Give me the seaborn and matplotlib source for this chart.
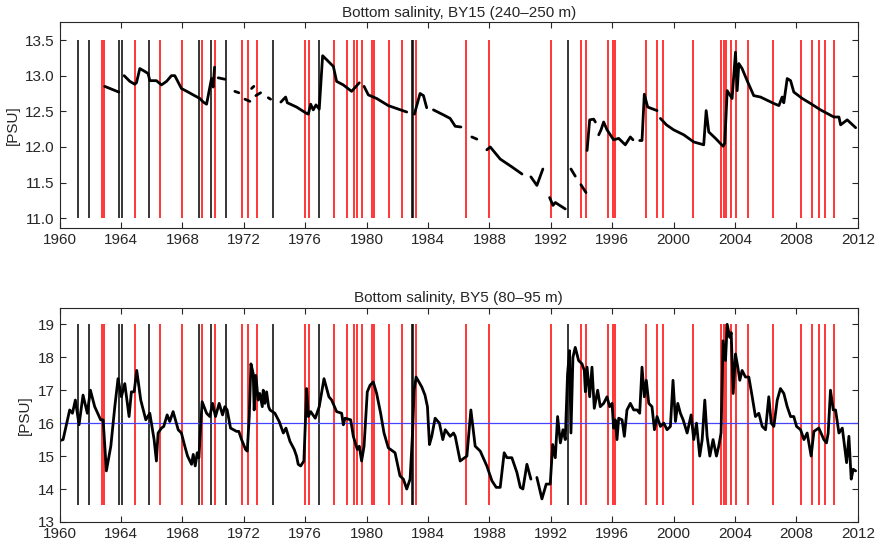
import numpy as np
import pandas as pd
import seaborn as sns
import matplotlib
matplotlib.use('Agg')
import matplotlib.pyplot as plt

#%% event years (vertical lines)
black_years = [1961.19, 1961.91, 1963.85, 1964.06, 1965.82, 1969.07, 1969.83, 1970.81,
               1973.87, 1976.91, 1982.94, 1983.05, 1993.1]
red_years = [1962.78, 1962.91, 1964.89, 1966.52, 1967.94, 1969.28, 1970.11, 1971.85,
             1972.26, 1972.87, 1976.0, 1976.26, 1977.87, 1978.74, 1979.18, 1979.35,
             1979.72, 1980.33, 1980.5, 1981.48, 1982.31, 1983.2, 1986.46, 1987.94,
             1992.03, 1993.99, 1994.27, 1995.7, 1996.05, 1996.18, 1998.23, 1998.92,
             1999.33, 2001.23, 2003.07, 2003.25, 2003.42, 2003.75, 2004.07, 2004.83,
             2006.48, 2008.27, 2009.01, 2009.44, 2009.88, 2010.47]

#%% BY15 bottom salinity (NaN = gap)
nan = np.nan
by15_year = [1962.93, 1963.85, 1964.0,
             1964.2, 1964.57, 1964.89, 1965.0, 1965.22, 1965.54, 1965.76, 1965.87, 1966.3,
             1966.63, 1966.96, 1967.28, 1967.5, 1967.93, 1968.37, 1968.7, 1969.13, 1969.35,
             1969.57, 1969.89, 1970.0, 1970.09, 1970.2,
             1970.33, 1970.76, 1971.0,
             1971.41, 1971.67, 1971.9,
             1972.07, 1972.39, 1972.45,
             1972.5, 1972.65, 1972.7,
             1972.78, 1973.09, 1973.3,
             1973.59, 1973.74, 1974.0,
             1974.41, 1974.72, 1974.83, 1975.43, 1976.09, 1976.2, 1976.35, 1976.52, 1976.7,
             1976.91, 1977.13, 1977.5, 1977.83, 1978.04, 1978.48, 1979.02, 1979.52, 1979.7,
             1979.83, 1980.11, 1980.65, 1981.41, 1982.07, 1982.61, 1982.9,
             1983.11, 1983.48, 1983.7, 1983.91, 1984.1,
             1984.35, 1985.0, 1985.44, 1985.77, 1986.14, 1986.5,
             1986.85, 1987.18, 1987.5,
             1987.83, 1988.05, 1988.7, 1989.46, 1990.12, 1990.4,
             1990.7, 1991.09, 1991.48, 1991.7,
             1991.92, 1992.14, 1992.29, 1992.94, 1993.1,
             1993.31, 1993.59, 1993.8,
             1993.96, 1994.29, 1994.33,
             1994.36, 1994.53, 1994.79, 1994.9, 1995.0,
             1995.12, 1995.27, 1995.44, 1995.66, 1996.09, 1996.42, 1996.85, 1997.18, 1997.35, 1997.6,
             1997.79, 1997.94, 1998.09, 1998.31, 1998.92, 1999.0,
             1999.14, 1999.53, 2000.0, 2000.66, 2001.31, 2001.96, 2002.12, 2002.29, 2002.73,
             2003.22, 2003.33, 2003.49, 2003.81, 2004.03, 2004.14, 2004.25, 2004.46, 2004.79,
             2005.22, 2005.66, 2006.53, 2006.86, 2007.07, 2007.18, 2007.4, 2007.62, 2007.83,
             2008.38, 2008.92, 2009.57, 2010.0, 2010.44, 2010.77, 2010.88, 2011.31, 2011.86]
by15_sal = [12.85, 12.77, nan,
            13.0, 12.92, 12.88, 12.9, 13.1, 13.06, 13.03, 12.93, 12.93,
            12.87, 12.92, 13.0, 13.0, 12.82, 12.77, 12.73, 12.68, 12.63,
            12.6, 12.96, 12.84, 13.12, nan,
            12.97, 12.95, nan,
            12.78, 12.76, nan,
            12.67, 12.64, nan,
            12.82, 12.85, nan,
            12.72, 12.76, nan,
            12.69, 12.67, nan,
            12.63, 12.7, 12.62, 12.56, 12.47, 12.46, 12.6, 12.52, 12.59,
            12.53, 13.28, 13.2, 13.13, 12.92, 12.87, 12.78, 12.9, nan,
            12.85, 12.73, 12.68, 12.58, 12.53, 12.49, nan,
            12.46, 12.75, 12.72, 12.55, nan,
            12.52, 12.45, 12.40, 12.29, 12.28, nan,
            12.14, 12.11, nan,
            11.96, 12.0, 11.83, 11.72, 11.62, nan,
            11.58, 11.46, 11.69, nan,
            11.29, 11.18, 11.22, 11.13, nan,
            11.69, 11.59, nan,
            11.47, 11.36, nan,
            11.95, 12.38, 12.39, 12.35, nan,
            12.17, 12.24, 12.35, 12.24, 12.1, 12.12, 12.03, 12.14, 12.1, nan,
            12.09, 12.09, 12.74, 12.56, 12.51, nan,
            12.4, 12.31, 12.24, 12.17, 12.07, 12.03, 12.51, 12.21, 12.12,
            12.01, 12.05, 12.79, 12.68, 13.33, 12.79, 13.17, 13.1, 12.93,
            12.72, 12.7, 12.61, 12.58, 12.7, 12.62, 12.96, 12.93, 12.77,
            12.68, 12.61, 12.52, 12.47, 12.42, 12.42, 12.31, 12.38, 12.27]

#%% BY5 bottom salinity
by5_year = [1960.0, 1960.22, 1960.65, 1960.83, 1961.02, 1961.26, 1961.52, 1961.8, 1962.0,
            1962.28, 1962.67, 1962.83, 1963.04, 1963.33, 1963.59, 1963.8, 1964.02, 1964.24,
            1964.52, 1964.67, 1964.85, 1965.02, 1965.28, 1965.61, 1965.87, 1966.15, 1966.3,
            1966.41, 1966.63, 1966.78, 1967.0, 1967.17, 1967.39, 1967.72, 1967.93, 1968.15,
            1968.33, 1968.59, 1968.7, 1968.83, 1968.96, 1969.07, 1969.17, 1969.28, 1969.57,
            1969.78, 1969.96, 1970.15, 1970.39, 1970.61, 1970.76, 1970.91, 1971.13, 1971.52,
            1971.67, 1971.85, 1972.11, 1972.22, 1972.35, 1972.46, 1972.61, 1972.67, 1972.78,
            1972.93, 1973.04, 1973.2, 1973.26, 1973.37, 1973.48, 1973.61, 1973.7, 1974.02,
            1974.3, 1974.57, 1974.74, 1975.0, 1975.28, 1975.43, 1975.54, 1975.7, 1975.91,
            1976.02, 1976.09, 1976.2, 1976.35, 1976.65, 1976.91, 1977.22, 1977.54, 1977.72,
            1978.04, 1978.37, 1978.48, 1978.59, 1978.96, 1979.13, 1979.39, 1979.52, 1979.67,
            1979.83, 1980.04, 1980.22, 1980.43, 1980.65, 1980.91, 1981.13, 1981.41, 1981.85,
            1982.17, 1982.39, 1982.61, 1982.83, 1983.0, 1983.09, 1983.22, 1983.59, 1983.8,
            1983.96, 1984.09, 1984.24, 1984.46, 1984.74, 1984.96, 1985.12, 1985.44, 1985.66,
            1985.77, 1986.09, 1986.53, 1986.79, 1987.07, 1987.4, 1987.83, 1988.16, 1988.44,
            1988.7, 1988.96, 1989.14, 1989.46, 1989.79, 1990.01, 1990.18, 1990.44, 1990.7,
            1990.9, 1991.09, 1991.42, 1991.7, 1991.96, 1992.12, 1992.29, 1992.44, 1992.62,
            1992.79, 1992.94, 1993.09, 1993.22, 1993.31, 1993.44, 1993.59, 1993.81, 1994.03,
            1994.18, 1994.25, 1994.36, 1994.53, 1994.68, 1994.83, 1995.05, 1995.22, 1995.44,
            1995.66, 1995.83, 1995.99, 1996.09, 1996.2, 1996.31, 1996.42, 1996.64, 1996.79,
            1996.96, 1997.18, 1997.4, 1997.62, 1997.79, 1997.94, 1998.09, 1998.22, 1998.38,
            1998.59, 1998.75, 1998.92, 1999.14, 1999.36, 1999.57, 1999.79, 1999.96, 2000.12,
            2000.27, 2000.44, 2000.62, 2000.88, 2001.14, 2001.31, 2001.49, 2001.7, 2001.86,
            2002.03, 2002.18, 2002.36, 2002.57, 2002.79, 2002.94, 2003.09, 2003.22, 2003.38,
            2003.49, 2003.66, 2003.75, 2003.88, 2004.03, 2004.18, 2004.31, 2004.46, 2004.68,
            2004.9, 2005.12, 2005.33, 2005.55, 2005.77, 2005.99, 2006.2, 2006.36, 2006.53,
            2006.75, 2006.96, 2007.18, 2007.4, 2007.62, 2007.83, 2008.01, 2008.27, 2008.49,
            2008.7, 2008.96, 2009.14, 2009.46, 2009.79, 2009.96, 2010.07, 2010.22, 2010.4,
            2010.55, 2010.77, 2010.99, 2011.14, 2011.27, 2011.42, 2011.57, 2011.7, 2011.86]
by5_sal = [15.47, 15.5, 16.4, 16.3, 16.7, 15.95, 16.85, 16.3, 17.0,
           16.5, 16.1, 16.1, 14.55, 15.3, 16.5, 17.35, 16.8, 17.2,
           16.2, 16.95, 16.95, 17.6, 16.7, 16.1, 16.3, 15.5, 14.85,
           15.7, 15.85, 15.9, 16.25, 16.05, 16.35, 15.8, 15.7, 15.3,
           15.0, 14.75, 15.05, 14.7, 15.1, 14.95, 15.8, 16.65, 16.3,
           16.2, 16.6, 16.2, 16.6, 16.25, 16.5, 16.4, 15.85, 15.75,
           15.75, 15.5, 15.2, 15.15, 16.2, 17.8, 17.5, 16.4, 17.45,
           16.7, 16.9, 16.5, 17.0, 16.6, 16.95, 16.5, 16.4, 16.3,
           16.05, 15.7, 15.85, 15.45, 15.2, 15.0, 14.75, 14.7, 14.85,
           16.2, 17.05, 16.2, 16.35, 16.15, 16.5, 17.35, 16.8, 16.7,
           16.35, 16.3, 15.95, 16.15, 16.1, 15.6, 15.2, 15.3, 14.85,
           15.3, 16.95, 17.15, 17.25, 16.9, 16.3, 15.7, 15.25, 15.1,
           14.4, 14.3, 14.0, 14.3, 15.8, 17.0, 17.4, 17.1, 16.85,
           16.5, 15.35, 15.6, 16.15, 16.0, 15.5, 15.8, 15.6, 15.7,
           15.6, 14.85, 15.0, 16.4, 15.3, 15.15, 14.7, 14.25, 14.05,
           14.05, 15.1, 14.95, 14.95, 14.5, 14.05, 14.0, 14.75, 14.3,
           nan, 14.35, 13.7, 14.15, 14.15, 15.35, 14.95, 16.2, 15.4,
           15.8, 15.5, 17.5, 18.2, 15.7, 18.0, 18.3, 17.9, 17.8,
           17.6, 16.95, 17.7, 16.8, 17.7, 16.45, 17.0, 16.5, 16.6,
           16.8, 16.5, 16.6, 15.85, 16.1, 15.5, 16.15, 16.1, 15.6,
           16.4, 16.6, 16.4, 16.4, 16.3, 17.7, 16.8, 17.3, 16.6,
           16.5, 15.8, 16.2, 15.9, 16.0, 15.8, 15.9, 17.3, 16.05,
           16.6, 16.3, 16.1, 15.7, 16.25, 15.5, 16.0, 15.0, 15.5,
           16.7, 15.6, 15.0, 15.5, 15.0, 15.3, 15.7, 18.5, 17.9,
           19.0, 18.6, 18.75, 16.9, 18.1, 17.7, 17.3, 17.6, 17.4,
           17.4, 16.8, 16.2, 16.3, 15.9, 15.8, 16.8, 16.0, 15.9,
           16.7, 17.05, 16.9, 16.5, 16.2, 16.2, 15.9, 15.8, 15.5,
           15.7, 15.0, 15.75, 15.85, 15.5, 15.4, 15.7, 17.0, 16.4,
           16.4, 15.7, 15.85, 15.3, 14.8, 15.6, 14.3, 14.6, 14.55]

df15 = pd.DataFrame({'year': by15_year, 'sal': by15_sal})
df5 = pd.DataFrame({'year': by5_year, 'sal': by5_sal})

#%%
sns.set_style('ticks')
plt.rcParams['font.family'] = ['Liberation Sans', 'DejaVu Sans']
plt.rcParams['xtick.direction'] = 'in'
plt.rcParams['ytick.direction'] = 'in'

fig = plt.figure(figsize=(8.78, 5.42), dpi=100)
ax1 = fig.add_axes([0.068, 0.579, 0.909, 0.380])
ax2 = fig.add_axes([0.068, 0.037, 0.909, 0.395])

panels = [(ax1, df15, 11.0, 13.5, (10.86, 13.75), np.arange(11.0, 13.51, 0.5),
           'Bottom salinity, BY15 (240\u2013250 m)', '%.1f'),
          (ax2, df5, 13.5, 19.0, (13.0, 19.5), np.arange(13, 20, 1),
           'Bottom salinity, BY5 (80\u201395 m)', '%d')]

for ax, df, lo, hi, ylim, yt, title, fmt in panels:
    ax.vlines(black_years, lo, hi, color='black', lw=1.1)
    ax.vlines(red_years, lo, hi, color='red', lw=1.1)
    if ax is ax2:
        ax.axhline(16, color='#4444ff', lw=0.9)
    # plain plot keeps NaN gaps
    ax.plot(df['year'], df['sal'], color='black', lw=2)
    ax.set_xlim(1960, 2012)
    ax.set_ylim(*ylim)
    ax.set_xticks(np.arange(1960, 2013, 4))
    ax.set_yticks(yt)
    ax.set_yticklabels([fmt % v for v in yt])
    ax.tick_params(top=True, right=True, labelsize=11, length=4)
    ax.set_title(title, fontsize=11, pad=4)
    ax.set_ylabel('[PSU]', fontsize=11)
    for s in ax.spines.values():
        s.set_linewidth(0.8)

fig.savefig('out.png', dpi=100)
